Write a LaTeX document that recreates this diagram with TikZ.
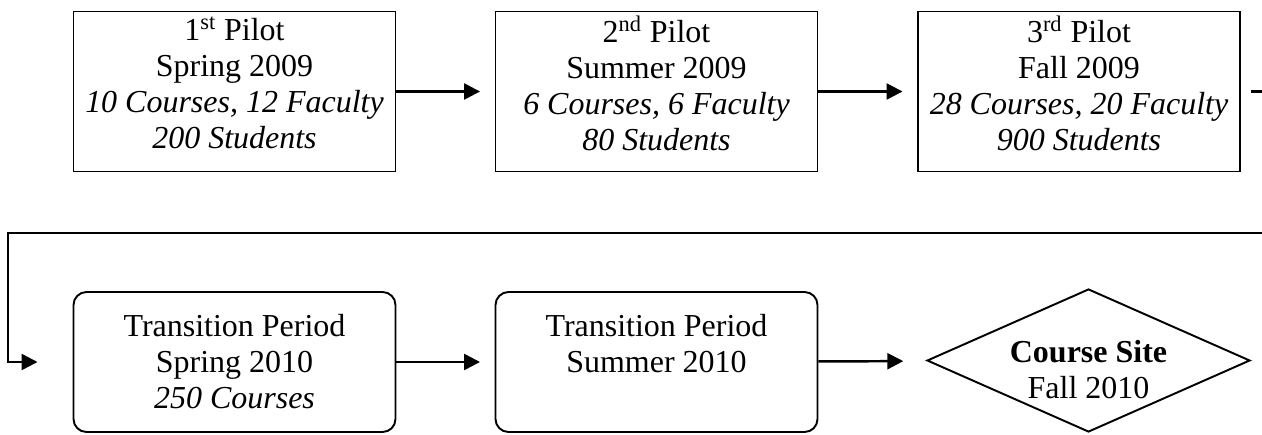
\documentclass[tikz,border=0pt]{standalone}
\usepackage{fontspec}
\setmainfont{Liberation Serif}
\usetikzlibrary{arrows.meta,shapes.geometric}
\begin{document}
\begin{tikzpicture}[
  every node/.style={font=\fontsize{18.2}{20.5}\selectfont, align=center},
  pilot/.style={draw, line width=1.1pt, minimum width=6.44cm, minimum height=3.2cm, inner sep=0pt},
  phase/.style={pilot, rounded corners=0.26cm, minimum height=2.8cm},
  site/.style={draw, line width=1.1pt, diamond, aspect=2.26, inner sep=0pt,
    minimum width=6.46cm, minimum height=2.86cm},
  flow/.style={line width=1.4pt, -{Triangle[length=0.32cm,width=0.32cm]}, shorten >=0.29cm}
]
\clip (0,0) rectangle (25.24,8.68);
% pilots
\node[pilot] (p1) at (4.69,6.85) {};
\node[pilot] (p2) at (13.13,6.85) {};
\node[pilot] (p3) at (21.58,6.85) {};
\node (p1t) at ([yshift=0.17cm]p1.center) {1\textsuperscript{st} Pilot\\Spring 2009\\\textit{10 Courses, 12 Faculty}\\\textit{200 Students}};
\node (p2t) at ([yshift=0.17cm]p2.center) {2\textsuperscript{nd} Pilot\\Summer 2009\\\textit{6 Courses, 6 Faculty}\\\textit{80 Students}};
\node (p3t) at ([yshift=0.17cm]p3.center) {3\textsuperscript{rd} Pilot\\Fall 2009\\\textit{28 Courses, 20 Faculty}\\\textit{900 Students}};
% transition and launch
\node[phase] (t1) at (4.69,1.44) {};
\node[phase] (t2) at (13.13,1.44) {};
\node[site] (cs) at (21.77,1.47) {};
\node (t1t) at (t1) {Transition Period\\Spring 2010\\\textit{250 Courses}};
\node[anchor=north] (t2t) at (t1t.north -| t2) {Transition Period\\Summer 2010};
\node (cst) at ([yshift=-0.18cm]cs.center) {\textbf{Course Site}\\Fall 2010};
\coordinate (back) at (0.16,4.02);
\draw[flow] (p1) -- (p2);
\draw[flow] (p2) -- (p3);
\draw[flow, shorten <=0.2cm, shorten >=0.7cm] (p3.east) -- ++(1,0) |- (back) |- (t1.west);
\draw[flow] (t1) -- (t2);
\draw[flow, shorten >=0.48cm] (t2) -- (cs);
\end{tikzpicture}
\end{document}
